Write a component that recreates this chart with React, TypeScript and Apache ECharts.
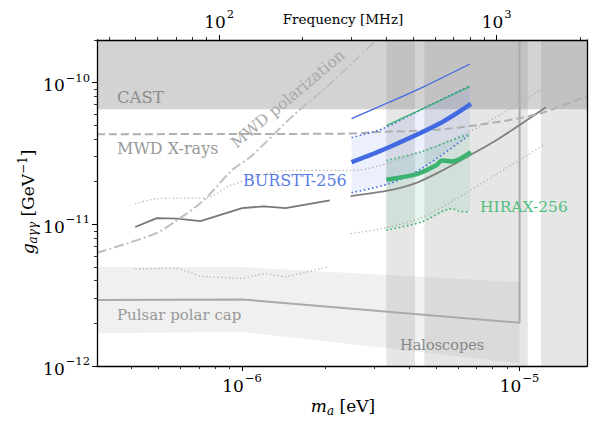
import React, { useEffect, useRef } from 'react';
import * as echarts from 'echarts';

const FONT = 'DejaVu Serif';

// axis extents
const X_MIN = 3e-7;
const X_MAX = 1.75e-5;
const Y_MIN = 1e-12;
const Y_MAX = 2e-10;
const MHZ_PER_EV = 1.209e8; // f = m / (2h)

// ticks
const xMajor = [1e-6, 1e-5];
const xMinor = [4e-7, 5e-7, 6e-7, 7e-7, 8e-7, 9e-7, 2e-6, 3e-6, 4e-6, 5e-6, 6e-6, 7e-6, 8e-6, 9e-6];
const fMajor = [100, 1000];
const fMinor = [40, 50, 60, 70, 80, 90, 200, 300, 400, 500, 600, 700, 800, 900, 2000];
const yMajor = [1e-12, 1e-11, 1e-10];
const yMinor = [2e-12, 3e-12, 4e-12, 5e-12, 6e-12, 7e-12, 8e-12, 9e-12, 2e-11, 3e-11, 4e-11, 5e-11, 6e-11, 7e-11, 8e-11, 9e-11, 2e-10];

// CAST
const castLow = 6.5e-11;

// Haloscope bands [from, to]
const haloBands = [
  [3.31e-6, 4.2e-6],
  [4.54e-6, 1.07e-5],
  [1.195e-5, 1.75e-5],
];

// Pulsar polar cap band
const pulsarBandX = [3e-7, 1e-6, 1e-5];
const pulsarBandUp = [5.0e-12, 5.0e-12, 3.9e-12];
const pulsarBandLo = [1.7e-12, 1.74e-12, 1.05e-12];
const pulsarLineX = [3e-7, 1e-6, 1e-5, 1e-5];
const pulsarLineY = [2.92e-12, 2.95e-12, 2.02e-12, 2e-10];
const pulsarDotX = [4.12e-7, 5.82e-7, 7.08e-7, 1e-6, 1.215e-6, 1.434e-6, 2.03e-6];
const pulsarDotY = [4.82e-12, 4.92e-12, 4.30e-12, 4.15e-12, 4.50e-12, 4.25e-12, 5.0e-12];

// Dark gray solid line (left)
const darkX = [4.12e-7, 4.93e-7, 5.82e-7, 7.08e-7, 1.0e-6, 1.2e-6, 1.434e-6, 2.07e-6];
const darkY = [9.57e-12, 1.107e-11, 1.097e-11, 1.055e-11, 1.302e-11, 1.339e-11, 1.302e-11, 1.476e-11];

// Upper gray dotted line
const upDotX = [4.12e-7, 4.93e-7, 5.82e-7, 7.46e-7, 9.08e-7, 1.474e-6, 2.462e-6, 4.5e-6, 7.35e-6, 1.211e-5];
const upDotY = [1.399e-11, 1.517e-11, 1.53e-11, 1.54e-11, 1.883e-11, 2.4e-11, 2.4e-11, 3.3e-11, 5.04e-11, 9.03e-11];

// Lower-right gray dotted line
const loDotX = [2.462e-6, 3.2e-6, 4.345e-6, 5.715e-6, 1.228e-5];
const loDotY = [8.6e-12, 9.33e-12, 1.097e-11, 1.452e-11, 3.66e-11];

// Right gray solid curve
const rightX = [2.46e-6, 3.385e-6, 4.227e-6, 5.13e-6, 6.77e-6, 8.22e-6, 1.245e-5];
const rightY = [1.582e-11, 1.735e-11, 1.953e-11, 2.335e-11, 3.147e-11, 3.905e-11, 6.7e-11];

// MWD polarization (dash-dot)
const mwdPolX = [3e-7, 4.87e-7, 5.82e-7, 7.27e-7, 9.18e-7, 1.075e-6, 1.537e-6, 2.022e-6, 3.05e-6];
const mwdPolY = [6.3e-12, 8.6e-12, 1.067e-11, 1.476e-11, 2.4e-11, 3.01e-11, 5.92e-11, 9.37e-11, 2.0e-10];

// MWD X-rays (dashed)
const mwdXrX = [3e-7, 2.3e-6, 3.1e-6, 5.0e-6, 7.15e-6, 1.0e-5, 1.245e-5, 1.75e-5];
const mwdXrY = [4.33e-11, 4.36e-11, 4.48e-11, 4.64e-11, 5.04e-11, 5.61e-11, 6.25e-11, 8.06e-11];

// BURSTT-256
const bThinX = [2.48e-6, 3.385e-6, 4.467e-6, 6.62e-6];
const bThinY = [5.58e-11, 7.27e-11, 9.27e-11, 1.354e-10];
const bThickX = [2.48e-6, 3.385e-6, 5.13e-6, 6.68e-6];
const bThickY = [2.746e-11, 3.5e-11, 5.12e-11, 7.08e-11];
const bUpX = [2.48e-6, 3.2e-6, 4.467e-6, 6.62e-6];
const bUpY = [4.1e-11, 4.72e-11, 6.53e-11, 9.52e-11];
const bLoX = [2.48e-6, 3.385e-6, 4.44e-6, 6.62e-6];
const bLoY = [1.672e-11, 1.935e-11, 2.48e-11, 4.3e-11];

// HIRAX-256
const hThinX = [3.31e-6, 4.467e-6, 6.62e-6];
const hThinY = [4.98e-11, 6.53e-11, 9.37e-11];
const hThickX = [3.31e-6, 4.227e-6, 4.99e-6, 5.26e-6, 5.715e-6, 6.68e-6];
const hThickY = [2.064e-11, 2.25e-11, 2.6e-11, 2.82e-11, 2.78e-11, 3.23e-11];
const hUpX = [3.31e-6, 4.467e-6, 5.56e-6, 6.62e-6];
const hUpY = [2.82e-11, 3.27e-11, 3.84e-11, 4.37e-11];
const hLoX = [3.31e-6, 4.43e-6, 5.715e-6, 6.05e-6, 6.62e-6];
const hLoY = [9.07e-12, 1.038e-11, 1.29e-11, 1.235e-11, 1.221e-11];

const BLUE = '#4169e1';
const GREEN = '#3cb371';

function polySeries(xs: number[], ys: number[], fill: string, z: number) {
  return {
    type: 'custom',
    coordinateSystem: 'cartesian2d',
    xAxisIndex: 0,
    yAxisIndex: 0,
    clip: true,
    silent: true,
    z,
    data: [[xs[0], ys[0]]],
    renderItem: (_p: any, api: any) => ({
      type: 'polygon',
      shape: { points: xs.map((x, i) => api.coord([x, ys[i]])) },
      style: { fill },
    }),
  };
}

function band(ux: number[], uy: number[], lx: number[], ly: number[], fill: string, z: number) {
  return polySeries([...ux, ...[...lx].reverse()], [...uy, ...[...ly].reverse()], fill, z);
}

function rect(x0: number, x1: number, y0: number, y1: number, fill: string, z: number) {
  return polySeries([x0, x1, x1, x0], [y0, y0, y1, y1], fill, z);
}

function line(xs: number[], ys: number[], color: string, width: number, type: any, z = 5, smooth: any = false) {
  return {
    type: 'line',
    xAxisIndex: 0,
    yAxisIndex: 0,
    data: xs.map((x, i) => [x, ys[i]]),
    symbol: 'none',
    showSymbol: false,
    silent: true,
    clip: true,
    smooth,
    z,
    lineStyle: { color, width, type, cap: 'butt' },
  };
}

const supRich = {
  b: { fontFamily: FONT, fontSize: 17, color: '#000', lineHeight: 22, verticalAlign: 'bottom' },
  s: { fontFamily: FONT, fontSize: 11.5, color: '#000', lineHeight: 22, verticalAlign: 'top', padding: [0, 0, 0, 1] },
};

const expLabel = (v: number) => {
  const e = Math.round(Math.log10(v));
  return `{b|10}{s|${e < 0 ? '\u2212' + -e : e}}`;
};

function majorAxis(min: number, max: number, position: string, ticks: number[], margin: number) {
  return {
    type: 'log',
    logBase: 10,
    min,
    max,
    position,
    z: 10,
    axisLine: { show: true, onZero: false, lineStyle: { color: '#000', width: 1.3 } },
    axisTick: { show: true, inside: false, length: 5, customValues: ticks, lineStyle: { color: '#000', width: 1 } },
    axisLabel: { show: true, customValues: ticks, formatter: expLabel, rich: supRich, margin },
    splitLine: { show: false },
    minorTick: { show: false },
  };
}

function minorAxis(min: number, max: number, position: string, ticks: number[]) {
  return {
    type: 'log',
    logBase: 10,
    min,
    max,
    position,
    z: 10,
    axisLine: { show: false, onZero: false },
    axisTick: { show: true, inside: false, length: 3, customValues: ticks, lineStyle: { color: '#000', width: 0.8 } },
    axisLabel: { show: false },
    splitLine: { show: false },
    minorTick: { show: false },
  };
}

function txt(x: number, y: number, text: string, size: number, fill: string, align = 'left', rotation = 0, rich?: any) {
  return {
    type: 'text',
    x,
    y,
    rotation,
    z: 20,
    silent: true,
    style: { text, fontFamily: FONT, fontSize: size, fill, align, verticalAlign: 'middle', rich },
  };
}

const mathRich = {
  i: { fontFamily: FONT, fontSize: 17, fontStyle: 'italic', fill: '#000', lineHeight: 22, verticalAlign: 'middle' },
  n: { fontFamily: FONT, fontSize: 17, fill: '#000', lineHeight: 22, verticalAlign: 'middle' },
  sub: { fontFamily: FONT, fontSize: 12, fontStyle: 'italic', fill: '#000', lineHeight: 12, verticalAlign: 'bottom' },
  sup: { fontFamily: FONT, fontSize: 12, fill: '#000', lineHeight: 12, verticalAlign: 'top' },
};

const option = {
  animation: false,
  backgroundColor: '#fff',
  grid: { left: 97, right: 8, top: 40, bottom: 56, containLabel: false },
  xAxis: [
    majorAxis(X_MIN, X_MAX, 'bottom', xMajor, 6),
    minorAxis(X_MIN, X_MAX, 'bottom', xMinor),
    majorAxis(X_MIN * MHZ_PER_EV, X_MAX * MHZ_PER_EV, 'top', fMajor, 10),
    minorAxis(X_MIN * MHZ_PER_EV, X_MAX * MHZ_PER_EV, 'top', fMinor),
  ],
  yAxis: [
    majorAxis(Y_MIN, Y_MAX, 'left', yMajor, 7),
    minorAxis(Y_MIN, Y_MAX, 'left', yMinor),
    {
      type: 'log', min: Y_MIN, max: Y_MAX, position: 'right', z: 10,
      axisLine: { show: true, onZero: false, lineStyle: { color: '#000', width: 1.3 } },
      axisTick: { show: false }, axisLabel: { show: false }, splitLine: { show: false },
    },
  ],
  series: [
    rect(X_MIN, X_MAX, castLow, Y_MAX, '#d3d3d3', 1),
    ...haloBands.map(([a, b]) => rect(a, b, Y_MIN, Y_MAX, 'rgba(128,128,128,0.2)', 2)),
    band(pulsarBandX, pulsarBandUp, pulsarBandX, pulsarBandLo, 'rgba(128,128,128,0.12)', 2),
    band(bUpX, bUpY, bLoX, bLoY, 'rgba(65,105,225,0.1)', 3),
    band(hUpX, hUpY, hLoX, hLoY, 'rgba(60,179,113,0.12)', 3),
    line(pulsarLineX, pulsarLineY, '#aaaaaa', 2, 'solid', 4),
    line(pulsarDotX, pulsarDotY, '#aaaaaa', 1.2, [1.2, 2.6], 4),
    line(darkX, darkY, '#777777', 1.8, 'solid', 4),
    line(upDotX, upDotY, '#aaaaaa', 1.2, [1.2, 2.6], 4, 0.3),
    line(loDotX, loDotY, '#aaaaaa', 1.2, [1.2, 2.6], 4, 0.3),
    line(rightX, rightY, '#808080', 1.8, 'solid', 4, 0.3),
    line(mwdPolX, mwdPolY, '#c0c0c0', 2, [10, 3, 2, 3], 4, 0.3),
    line(mwdXrX, mwdXrY, '#b0b0b0', 2, [8, 4], 4, 0.3),
    line(bThinX, bThinY, BLUE, 1.3, 'solid', 6, 0.3),
    line(bThickX, bThickY, BLUE, 4.5, 'solid', 6, 0.3),
    line(bUpX, bUpY, BLUE, 1.6, [1.6, 2.6], 6, 0.3),
    line(bLoX, bLoY, BLUE, 1.6, [1.6, 2.6], 6, 0.3),
    line(hThinX, hThinY, GREEN, 1.3, 'solid', 6, 0.3),
    line(hThickX, hThickY, GREEN, 4.5, 'solid', 6, 0.3),
    line(hUpX, hUpY, GREEN, 1.6, [1.6, 2.6], 6, 0.3),
    line(hLoX, hLoY, GREEN, 1.6, [1.6, 2.6], 6, 0.3),
  ],
  graphic: [
    txt(117, 97, 'CAST', 16.5, '#8c8c8c'),
    txt(117, 148, 'MWD X-rays', 16, '#999999'),
    txt(288, 99, 'MWD polarization', 15.5, '#a8a8a8', 'center', (40 * Math.PI) / 180),
    txt(243, 180, 'BURSTT-256', 16, '#5a7de6'),
    txt(480, 207, 'HIRAX-256', 15.5, '#4fbf80'),
    txt(117, 315, 'Pulsar polar cap', 15, '#999999'),
    txt(400, 345, 'Haloscopes', 14.5, '#888888'),
    txt(343, 19, 'Frequency [MHz]', 13.5, '#000000', 'center'),
    txt(343, 406, '{i|m}{sub|a}{n| [eV]}', 17, '#000', 'center', 0, mathRich),
    txt(28, 202, '{i|g}{sub|a\u03b3\u03b3}{n| [GeV}{sup|\u22121}{n|]}', 17, '#000', 'center', Math.PI / 2, mathRich),
  ],
};

export default function App() {
  const ref = useRef<HTMLDivElement>(null);
  useEffect(() => {
    document.body.style.margin = '0';
    const chart = echarts.init(ref.current!, null, { renderer: 'svg' });
    chart.setOption(option as any);
    return () => chart.dispose();
  }, []);
  return <div ref={ref} style={{ width: 595, height: 422 }} />;
}
